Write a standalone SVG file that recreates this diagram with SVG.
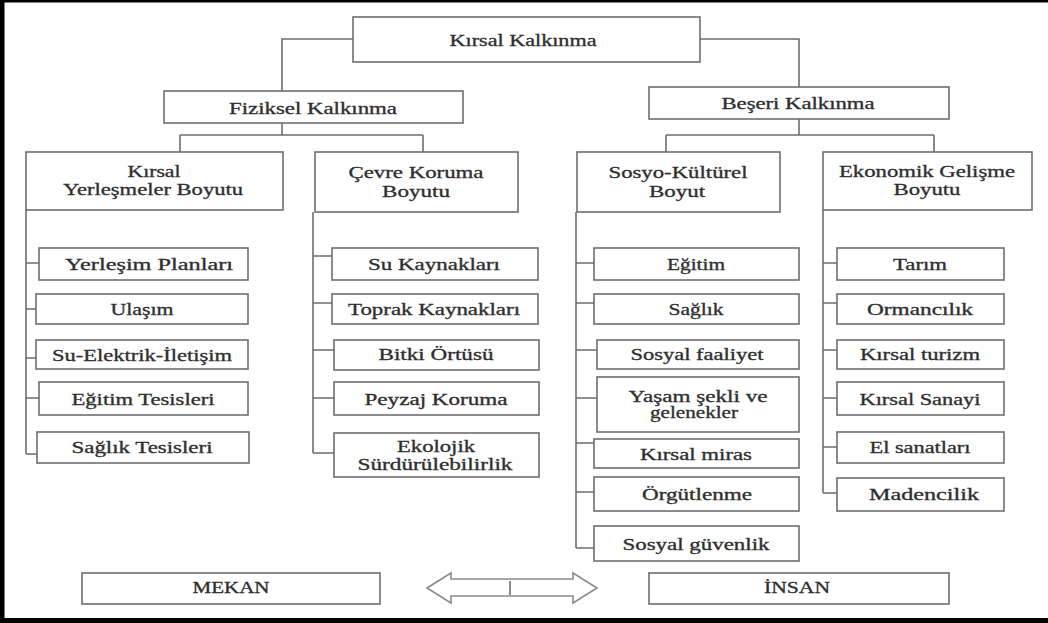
<svg xmlns="http://www.w3.org/2000/svg" width="1048" height="623" viewBox="0 0 1048 623">
<defs>
<style>
.box{fill:#fff;stroke:#6e6e6e;stroke-width:1.6}
.ln{fill:none;stroke:#6e6e6e;stroke-width:1.6}
.t{font-family:'Liberation Serif','Times New Roman',Times,serif;font-size:16px;fill:#2e2e2e;stroke:#2e2e2e;stroke-width:0.3;text-anchor:middle}
</style>
</defs>
<rect x="0" y="0" width="1048" height="623" fill="#fff"/>
<rect x="0" y="0" width="1048" height="2.5" fill="#000"/>
<rect x="0" y="0" width="4.5" height="623" fill="#000"/>
<rect x="0" y="618" width="1048" height="5" fill="#000"/>

<g id="connectors">
<path class="ln" d="M353,39 H282 V91 M700,39 H799 V87"/>
<path class="ln" d="M282,123 V135 M180,135 H423 M180,135 V152 M423,135 V152"/>
<path class="ln" d="M799,119 V135 M666,135 H934 M666,135 V152 M934,135 V152"/>
<path class="ln" d="M26,210 V454 M26,263 H39 M26,309 H36 M26,358 H36 M26,398 H39 M26,454 H37"/>
<path class="ln" d="M313,212 V453 M313,256 H332 M313,303 H332 M313,350 H334 M313,398 H334 M313,453 H334"/>
<path class="ln" d="M576,212 V548 M576,263 H594 M576,303 H594 M576,350 H597 M576,398 H597 M576,443 H594 M576,492 H594 M576,548 H594"/>
<path class="ln" d="M823,210 V493 M823,263 H837 M823,303 H837 M823,350 H837 M823,398 H837 M823,447 H837 M823,493 H837"/>
</g>

<g id="n-kirsal-kalkinma"><rect class="box" x="353" y="17" width="347" height="45"/><text class="t" x="523" y="46" textLength="147" lengthAdjust="spacingAndGlyphs">Kırsal Kalkınma</text></g>
<g id="n-fiziksel"><rect class="box" x="164" y="91" width="299" height="32"/><text class="t" x="313" y="114" textLength="168" lengthAdjust="spacingAndGlyphs">Fiziksel Kalkınma</text></g>
<g id="n-beseri"><rect class="box" x="649" y="87" width="300" height="32"/><text class="t" x="798" y="109" textLength="153" lengthAdjust="spacingAndGlyphs">Beşeri Kalkınma</text></g>

<g id="n-kirsal-yerlesmeler"><rect class="box" x="26" y="152" width="257" height="58"/><text class="t" x="154" y="177" textLength="53" lengthAdjust="spacingAndGlyphs">Kırsal</text><text class="t" x="153" y="195" textLength="180" lengthAdjust="spacingAndGlyphs">Yerleşmeler Boyutu</text></g>
<g id="n-cevre"><rect class="box" x="315" y="152" width="203" height="60"/><text class="t" x="416" y="178" textLength="135" lengthAdjust="spacingAndGlyphs">Çevre Koruma</text><text class="t" x="416" y="197" textLength="68" lengthAdjust="spacingAndGlyphs">Boyutu</text></g>
<g id="n-sosyo"><rect class="box" x="577" y="152" width="203" height="60"/><text class="t" x="678" y="178" textLength="139" lengthAdjust="spacingAndGlyphs">Sosyo-Kültürel</text><text class="t" x="677" y="197" textLength="56" lengthAdjust="spacingAndGlyphs">Boyut</text></g>
<g id="n-ekonomik"><rect class="box" x="823" y="152" width="209" height="58"/><text class="t" x="927" y="177" textLength="176" lengthAdjust="spacingAndGlyphs">Ekonomik Gelişme</text><text class="t" x="927" y="195" textLength="67" lengthAdjust="spacingAndGlyphs">Boyutu</text></g>

<g id="n-yerlesim"><rect class="box" x="39" y="248" width="209" height="32"/><text class="t" x="149" y="270" textLength="168" lengthAdjust="spacingAndGlyphs">Yerleşim Planları</text></g>
<g id="n-ulasim"><rect class="box" x="36" y="294" width="212" height="30"/><text class="t" x="142" y="315" textLength="63" lengthAdjust="spacingAndGlyphs">Ulaşım</text></g>
<g id="n-su-elektrik"><rect class="box" x="36" y="340" width="212" height="29"/><text class="t" x="142" y="361" textLength="180" lengthAdjust="spacingAndGlyphs">Su-Elektrik-İletişim</text></g>
<g id="n-egitim-tesisleri"><rect class="box" x="39" y="382" width="209" height="33"/><text class="t" x="143" y="405" textLength="143" lengthAdjust="spacingAndGlyphs">Eğitim Tesisleri</text></g>
<g id="n-saglik-tesisleri"><rect class="box" x="37" y="432" width="212" height="31"/><text class="t" x="142" y="453" textLength="141" lengthAdjust="spacingAndGlyphs">Sağlık Tesisleri</text></g>

<g id="n-su-kaynaklari"><rect class="box" x="332" y="248" width="206" height="32"/><text class="t" x="434" y="270" textLength="132" lengthAdjust="spacingAndGlyphs">Su Kaynakları</text></g>
<g id="n-toprak"><rect class="box" x="332" y="294" width="206" height="30"/><text class="t" x="434" y="315" textLength="172" lengthAdjust="spacingAndGlyphs">Toprak Kaynakları</text></g>
<g id="n-bitki"><rect class="box" x="334" y="340" width="205" height="30"/><text class="t" x="436" y="360" textLength="115" lengthAdjust="spacingAndGlyphs">Bitki Örtüsü</text></g>
<g id="n-peyzaj"><rect class="box" x="334" y="382" width="205" height="33"/><text class="t" x="436" y="405" textLength="143" lengthAdjust="spacingAndGlyphs">Peyzaj Koruma</text></g>
<g id="n-ekolojik"><rect class="box" x="334" y="433" width="205" height="44"/><text class="t" x="436" y="452" textLength="78" lengthAdjust="spacingAndGlyphs">Ekolojik</text><text class="t" x="435" y="470" textLength="155" lengthAdjust="spacingAndGlyphs">Sürdürülebilirlik</text></g>

<g id="n-egitim"><rect class="box" x="594" y="248" width="205" height="32"/><text class="t" x="696" y="270" textLength="58" lengthAdjust="spacingAndGlyphs">Eğitim</text></g>
<g id="n-saglik"><rect class="box" x="594" y="294" width="205" height="30"/><text class="t" x="696" y="315" textLength="55" lengthAdjust="spacingAndGlyphs">Sağlık</text></g>
<g id="n-sosyal-faaliyet"><rect class="box" x="597" y="340" width="202" height="29"/><text class="t" x="697" y="360" textLength="133" lengthAdjust="spacingAndGlyphs">Sosyal faaliyet</text></g>
<g id="n-yasam"><rect class="box" x="597" y="377" width="202" height="55"/><text class="t" x="698" y="402" textLength="139" lengthAdjust="spacingAndGlyphs">Yaşam şekli ve</text><text class="t" x="694" y="418" textLength="88" lengthAdjust="spacingAndGlyphs">gelenekler</text></g>
<g id="n-kirsal-miras"><rect class="box" x="594" y="439" width="205" height="29"/><text class="t" x="696" y="460" textLength="112" lengthAdjust="spacingAndGlyphs">Kırsal miras</text></g>
<g id="n-orgutlenme"><rect class="box" x="594" y="477" width="205" height="34"/><text class="t" x="697" y="500" textLength="110" lengthAdjust="spacingAndGlyphs">Örgütlenme</text></g>
<g id="n-sosyal-guvenlik"><rect class="box" x="594" y="526" width="205" height="35"/><text class="t" x="696" y="550" textLength="147" lengthAdjust="spacingAndGlyphs">Sosyal güvenlik</text></g>

<g id="n-tarim"><rect class="box" x="837" y="248" width="167" height="32"/><text class="t" x="920" y="270" textLength="54" lengthAdjust="spacingAndGlyphs">Tarım</text></g>
<g id="n-ormancilik"><rect class="box" x="837" y="294" width="167" height="30"/><text class="t" x="920" y="315" textLength="106" lengthAdjust="spacingAndGlyphs">Ormancılık</text></g>
<g id="n-kirsal-turizm"><rect class="box" x="837" y="340" width="167" height="29"/><text class="t" x="920" y="360" textLength="120" lengthAdjust="spacingAndGlyphs">Kırsal turizm</text></g>
<g id="n-kirsal-sanayi"><rect class="box" x="837" y="382" width="167" height="33"/><text class="t" x="920" y="405" textLength="121" lengthAdjust="spacingAndGlyphs">Kırsal Sanayi</text></g>
<g id="n-el-sanatlari"><rect class="box" x="837" y="432" width="167" height="31"/><text class="t" x="920" y="453" textLength="101" lengthAdjust="spacingAndGlyphs">El sanatları</text></g>
<g id="n-madencilik"><rect class="box" x="837" y="478" width="167" height="33"/><text class="t" x="924" y="500" textLength="110" lengthAdjust="spacingAndGlyphs">Madencilik</text></g>

<g id="n-mekan"><rect class="box" x="82" y="573" width="298" height="31"/><text class="t" x="231" y="593" textLength="77" lengthAdjust="spacingAndGlyphs">MEKAN</text></g>
<g id="n-arrow">
<polygon points="427,588 451,573 451,579 573,579 573,573 597,588 573,603 573,596 451,596 451,603" fill="#fff" stroke="#8a8a8a" stroke-width="1.6" stroke-linejoin="miter"/>
<line x1="510" y1="581" x2="510" y2="595" stroke="#6e6e6e" stroke-width="1.6"/>
</g>
<g id="n-insan"><rect class="box" x="649" y="573" width="300" height="31"/><text class="t" x="797" y="593" textLength="66" lengthAdjust="spacingAndGlyphs">İNSAN</text></g>
</svg>
